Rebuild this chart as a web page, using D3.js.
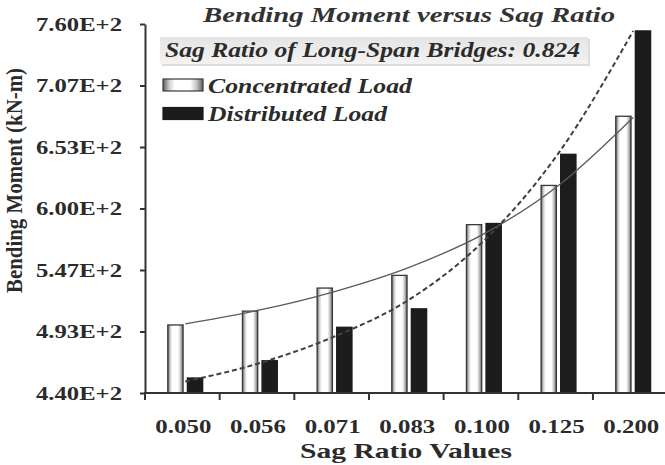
<!DOCTYPE html>
<html>
<head>
<meta charset="utf-8">
<script src="https://cdn.jsdelivr.net/npm/d3@7"></script>
<style>
  body { margin: 0; background: #fff; }
  svg { display: block; }
  text { font-family: "Liberation Serif", "Times New Roman", serif; font-weight: bold; fill: #2b2b2b; }
</style>
</head>
<body>
<div id="chart"></div>
<script>
// values
const sagRatios = ["0.050", "0.056", "0.071", "0.083", "0.100", "0.125", "0.200"];
const concentrated = [499, 511, 531, 542, 586, 620, 680];
const distributed = [453, 468, 497, 513, 587, 647, 754];
// trend curves, read at each category
const trendConc = [500, 512, 528, 549, 578, 620, 679];
const trendDist = [450, 466, 489, 521, 572, 648, 754];
const yTickValues = [440, 493.33, 546.67, 600, 653.33, 706.67, 760];
const yTickLabels = ["4.40E+2", "4.93E+2", "5.47E+2", "6.00E+2", "6.53E+2", "7.07E+2", "7.60E+2"];
const seriesKeys = ["conc", "dist"];
const seriesNames = ["Concentrated Load", "Distributed Load"];

const W = 665, H = 465;
const plot = {left: 146, right: 668.6, top: 24, bottom: 393};

const svg = d3.select("#chart").append("svg")
    .attr("width", W)
    .attr("height", H);

const defs = svg.append("defs");

// cylinder-ish shading for the white bars
const cyl = defs.append("linearGradient").attr("id", "cyl")
    .attr("x1", "0%").attr("x2", "100%").attr("y1", "0%").attr("y2", "0%");
[["0%", "#5e5e5e"], ["16%", "#d0d0d0"], ["30%", "#ffffff"], ["68%", "#ffffff"], ["84%", "#c4c4c4"], ["100%", "#5e5e5e"]]
    .forEach(s => cyl.append("stop").attr("offset", s[0]).attr("stop-color", s[1]));

const boxGrad = defs.append("linearGradient").attr("id", "boxg")
    .attr("x1", "0%").attr("x2", "0%").attr("y1", "0%").attr("y2", "100%");
boxGrad.append("stop").attr("offset", "0%").attr("stop-color", "#e4e4e4");
boxGrad.append("stop").attr("offset", "100%").attr("stop-color", "#f3f3f3");

// the source picture is stretched sideways, so the text is squeezed to its widths
function fit(sel, x, y, len) {
    return sel.attr("x", x).attr("y", y)
        .attr("textLength", len)
        .attr("lengthAdjust", "spacingAndGlyphs");
}

// scales
const x = d3.scaleBand()
    .domain(sagRatios)
    .range([plot.left, plot.right])
    .padding(0);

const xSub = d3.scaleBand()
    .domain(seriesKeys)
    .range([x.bandwidth() * 0.292, x.bandwidth() * 0.759])
    .paddingInner(0.22);

const y = d3.scaleLinear()
    .domain([440, 760])
    .range([plot.bottom, plot.top]);

// bars
const rows = sagRatios.map((s, i) => ({s: s, conc: concentrated[i], dist: distributed[i]}));

svg.append("g")
    .selectAll("g")
    .data(rows)
    .join("g")
    .attr("transform", d => `translate(${x(d.s)},0)`)
    .selectAll("rect")
    .data(d => seriesKeys.map(k => ({key: k, value: d[k]})))
    .join("rect")
    .attr("x", d => xSub(d.key))
    .attr("y", d => y(d.value))
    .attr("width", xSub.bandwidth())
    .attr("height", d => y(440) - y(d.value))
    .attr("fill", d => d.key === "conc" ? "url(#cyl)" : "#1c1c1c")
    .attr("stroke", d => d.key === "conc" ? "#3a3a3a" : "#1c1c1c")
    .attr("stroke-width", 1.3);

// trend curves
const midX = s => x(s) + (xSub("conc") + xSub.bandwidth() + xSub("dist")) / 2;
const line = d3.line()
    .x(d => midX(d[0]))
    .y(d => y(d[1]))
    .curve(d3.curveMonotoneX);

svg.append("path")
    .datum(sagRatios.map((s, i) => [s, trendConc[i]]))
    .attr("d", line)
    .attr("fill", "none")
    .attr("stroke", "#5a5a5a")
    .attr("stroke-width", 1.3);

svg.append("path")
    .datum(sagRatios.map((s, i) => [s, trendDist[i]]))
    .attr("d", line)
    .attr("fill", "none")
    .attr("stroke", "#404040")
    .attr("stroke-width", 2)
    .attr("stroke-dasharray", "5,3");

// axes
const yAxis = svg.append("g")
    .attr("transform", `translate(${plot.left - 1},0)`)
    .call(d3.axisLeft(y).tickValues(yTickValues).tickSize(5).tickSizeOuter(0).tickFormat(""));
yAxis.select(".domain").attr("stroke", "#333").attr("stroke-width", 2);
yAxis.selectAll(".tick line").attr("stroke", "#333").attr("stroke-width", 2);

svg.append("line")
    .attr("x1", plot.left - 2).attr("x2", W)
    .attr("y1", y(440)).attr("y2", y(440))
    .attr("stroke", "#333").attr("stroke-width", 2);

svg.append("g")
    .selectAll("line")
    .data(sagRatios)
    .join("line")
    .attr("x1", d => x(d) - 1).attr("x2", d => x(d) - 1)
    .attr("y1", y(440)).attr("y2", y(440) + 7)
    .attr("stroke", "#333").attr("stroke-width", 2);

// tick labels
svg.append("g")
    .selectAll("text")
    .data(yTickValues)
    .join("text")
    .attr("text-anchor", "end")
    .attr("dy", "0.35em")
    .style("font-size", "19px")
    .each(function(d) { fit(d3.select(this), 122, y(d), 86); })
    .text((d, i) => yTickLabels[i]);

svg.append("g")
    .selectAll("text")
    .data(sagRatios)
    .join("text")
    .attr("text-anchor", "middle")
    .style("font-size", "19.5px")
    .each(function(d) { fit(d3.select(this), x(d) + x.bandwidth() / 2, 433, 56); })
    .text(d => d);

// axis titles
fit(svg.append("text"), 406, 458, 212)
    .attr("text-anchor", "middle")
    .style("font-size", "22px")
    .text("Sag Ratio Values");

fit(svg.append("text"), 0, 0, 225)
    .attr("transform", "translate(21.5,180.5) scale(1.2,1) rotate(-90)")
    .attr("text-anchor", "middle")
    .style("font-size", "20px")
    .text("Bending Moment (kN-m)");

// chart title
fit(svg.append("text"), 203, 22, 412)
    .style("font-size", "22px")
    .style("font-style", "italic")
    .style("fill", "#333")
    .text("Bending Moment versus Sag Ratio");

// sag ratio box
svg.append("rect")
    .attr("x", 162).attr("y", 39).attr("width", 428).attr("height", 27)
    .attr("fill", "#cfcfcf").attr("opacity", 0.7);
svg.append("rect")
    .attr("x", 160).attr("y", 37).attr("width", 428).attr("height", 27)
    .attr("fill", "url(#boxg)");
fit(svg.append("text"), 165, 57, 415)
    .style("font-size", "20px")
    .style("font-style", "italic")
    .text("Sag Ratio of Long-Span Bridges: 0.824");

// legend
const legendWidths = [204, 179];
const legend = svg.append("g")
    .selectAll("g")
    .data(seriesKeys)
    .join("g")
    .attr("transform", (d, i) => `translate(163,${79 + i * 28.5})`);

legend.append("rect")
    .attr("width", 40).attr("height", 12)
    .attr("fill", d => d === "conc" ? "url(#cyl)" : "#1c1c1c")
    .attr("stroke", d => d === "conc" ? "#3a3a3a" : "#1c1c1c")
    .attr("stroke-width", 1.2);

legend.append("text")
    .style("font-size", "20px")
    .style("font-style", "italic")
    .each(function(d, i) { fit(d3.select(this), 45, 13.5, legendWidths[i]); })
    .text((d, i) => seriesNames[i]);
</script>
</body>
</html>
